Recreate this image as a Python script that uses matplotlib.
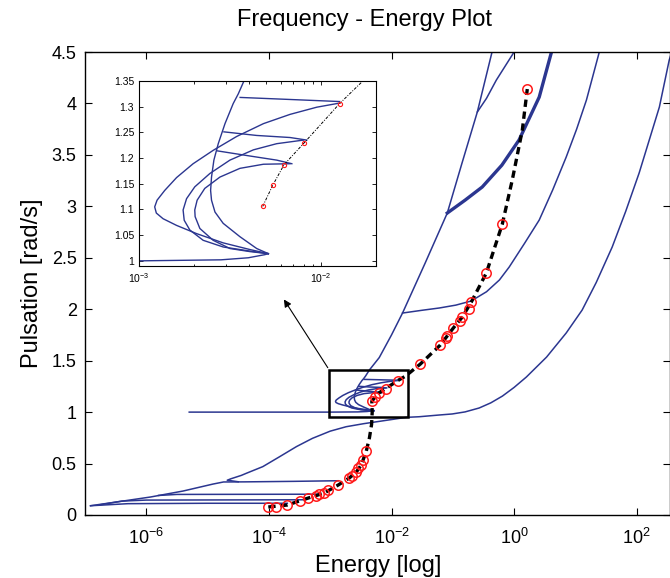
import matplotlib.pyplot as plt
import numpy as np
from matplotlib.patches import Rectangle

plt.rcParams['font.family'] = ['Liberation Sans', 'DejaVu Sans']
plt.rcParams['mathtext.default'] = 'regular'

# energies are given as log10(E), pulsation in rad/s
# lower backbone with the low-frequency tongues
low_E = [-6.91, -6.49, -5.93, -5.40, -4.91, -4.74, -4.40, -3.60, -2.87]
low_w = [0.090, 0.126, 0.175, 0.233, 0.301, 0.321, 0.322, 0.327, 0.333]
tongue1_E = [-6.91, -6.30, -5.00, -3.70]
tongue1_w = [0.090, 0.110, 0.114, 0.114]
tongue2_E = [-6.75, -6.40, -6.00, -3.45]
tongue2_w = [0.100, 0.135, 0.145, 0.148]
tongue3_E = [-5.80, -5.50, -3.20]
tongue3_w = [0.190, 0.200, 0.202]

# upper branch of first mode, going to the right big curve
up_E = [-4.50, -4.68, -4.62, -4.45, -4.37, -4.10, -3.83, -3.55, -3.29, -3.00, -2.74,
        -2.45, -2.20, -1.76, -1.55, -1.22, -1.01, -0.80, -0.57, -0.38, -0.19, 0.00,
        0.20, 0.53, 0.85, 1.11, 1.34, 1.60, 1.82, 2.04, 2.37, 2.53, 2.65]
up_w = [0.323, 0.338, 0.352, 0.385, 0.405, 0.470, 0.565, 0.665, 0.745, 0.815, 0.858,
        0.888, 0.910, 0.949, 0.955, 0.972, 0.982, 1.002, 1.040, 1.090, 1.156, 1.240,
        1.341, 1.535, 1.769, 1.992, 2.260, 2.604, 2.950, 3.324, 3.965, 4.420, 4.650]

# line at w = 1 ending at the tip of the C curves
one_E = [-5.30, -4.00, -3.00, -2.55, -2.40, -2.31, -2.29]
one_w = [1.000, 1.000, 1.000, 1.002, 1.006, 1.012, 1.014]

# C shaped curves (zoomed region)
c1_E = [-2.290, -2.391, -2.538, -2.684, -2.794, -2.868, -2.905, -2.914, -2.901, -2.859,
        -2.794, -2.703, -2.593, -2.464, -2.317, -2.171, -2.024, -1.899]
c1_w = [1.014, 1.022, 1.035, 1.053, 1.069, 1.082, 1.093, 1.105, 1.118, 1.137,
        1.162, 1.189, 1.215, 1.242, 1.267, 1.285, 1.299, 1.307]
c2_E = [-2.290, -2.391, -2.538, -2.648, -2.721, -2.752, -2.758, -2.739, -2.694, -2.611,
        -2.501, -2.372, -2.244, -2.097]
c2_w = [1.014, 1.019, 1.027, 1.040, 1.060, 1.079, 1.099, 1.121, 1.144, 1.170,
        1.196, 1.216, 1.228, 1.235]
c3_E = [-2.290, -2.391, -2.501, -2.593, -2.666, -2.692, -2.694, -2.681, -2.639, -2.556,
        -2.446, -2.317, -2.171]
c3_w = [1.014, 1.018, 1.024, 1.040, 1.063, 1.086, 1.099, 1.118, 1.141, 1.163,
        1.180, 1.188, 1.189]
# steepest one, leaves the box and goes to the top
c4_E = [-2.290, -2.354, -2.446, -2.538, -2.583, -2.602, -2.607, -2.602, -2.589, -2.565,
        -2.528, -2.483, -2.455, -2.424, -2.36, -2.20, -2.00, -1.82, -1.45, -1.09,
        -0.85, -0.60, -0.36]
c4_w = [1.014, 1.024, 1.047, 1.073, 1.095, 1.118, 1.137, 1.163, 1.196, 1.228,
        1.267, 1.306, 1.325, 1.350, 1.410, 1.530, 1.750, 1.963, 2.450, 2.935,
        3.420, 3.917, 4.500]
tk1_E = [-2.445, -2.171, -1.899]
tk1_w = [1.318, 1.314, 1.310]
tk2_E = [-2.534, -2.354, -2.171, -2.079]
tk2_w = [1.251, 1.244, 1.240, 1.235]
tk3_E = [-2.570, -2.391, -2.244, -2.161]
tk3_w = [1.214, 1.204, 1.196, 1.189]

# upper curves
d_E = [-1.82, -1.50, -1.22, -0.95, -0.70, -0.45, -0.24, -0.08, 0.17, 0.41, 0.63, 0.85, 1.02, 1.18, 1.39]
d_w = [1.963, 1.990, 2.012, 2.040, 2.080, 2.170, 2.284, 2.410, 2.640, 2.867, 3.160, 3.479, 3.750, 4.033, 4.500]
e_E = [-1.09, -0.80, -0.52, -0.20, 0.08, 0.41, 0.61]
e_w = [2.935, 3.060, 3.188, 3.400, 3.644, 4.062, 4.500]
f_E = [-0.60, -0.45, -0.29, 0.00]
f_w = [3.917, 4.050, 4.227, 4.500]

# computed points (red circles)
pts_E = [-4.010, -3.879, -3.700, -3.488, -3.357, -3.227, -3.178, -3.096, -3.031, -2.868,
         -2.688, -2.639, -2.574, -2.542, -2.493, -2.460, -2.411,
         -2.321, -2.266, -2.204, -2.095, -1.899,
         -1.530, -1.204, -1.106, -1.090, -0.992, -0.878, -0.845, -0.731, -0.698,
         -0.453, -0.192, 0.215]
pts_w = [0.078, 0.078, 0.097, 0.136, 0.165, 0.185, 0.204, 0.214, 0.243, 0.292,
         0.360, 0.379, 0.418, 0.457, 0.486, 0.535, 0.622,
         1.106, 1.147, 1.187, 1.229, 1.306,
         1.467, 1.652, 1.720, 1.740, 1.817, 1.885, 1.924, 2.002, 2.070,
         2.352, 2.828, 4.140]
# dashed path through the points
dash_E = [-4.010, -3.700, -3.357, -3.096, -2.868, -2.688, -2.574, -2.493, -2.411,
          -2.36, -2.325, -2.315, -2.321, -2.266, -2.204, -2.095, -1.899, -1.771,
          -1.530, -1.204, -0.992, -0.845, -0.698, -0.453, -0.192, -0.03, 0.134, 0.215]
dash_w = [0.078, 0.097, 0.165, 0.214, 0.292, 0.360, 0.418, 0.486, 0.622,
          0.750, 0.880, 1.000, 1.106, 1.147, 1.187, 1.229, 1.306, 1.350,
          1.467, 1.652, 1.817, 1.924, 2.070, 2.352, 2.828, 3.256, 3.741, 4.140]
inset_dash_start = 12  # the inset path starts at the first circle above w = 1.1

thin_curves = [(low_E, low_w), (tongue1_E, tongue1_w), (tongue2_E, tongue2_w),
               (tongue3_E, tongue3_w), (up_E, up_w), (one_E, one_w),
               (c1_E, c1_w), (c2_E, c2_w), (c3_E, c3_w), (c4_E, c4_w),
               (tk1_E, tk1_w), (tk2_E, tk2_w), (tk3_E, tk3_w),
               (d_E, d_w), (f_E, f_w)]

blue = '#2b3690'

fig = plt.figure(figsize=(6.7, 5.78), dpi=100)
ax = fig.add_axes([0.1269, 0.109, 0.8737, 0.801])

for E, w in thin_curves:
    ax.plot(10 ** np.array(E), w, color=blue, lw=1.1)
ax.plot(10 ** np.array(e_E), e_w, color=blue, lw=2.4)
ax.plot(10 ** np.array(dash_E), dash_w, color='k', lw=2.4, ls=(0, (2.2, 1.4)))
ax.plot(10 ** np.array(pts_E), pts_w, 'o', mfc='none', mec='#ff1a1a', ms=6.8, mew=1.1)

ax.set_xscale('log')
ax.set_xlim(1e-7, 10 ** 2.55)
ax.set_ylim(0, 4.5)
ax.set_xticks([1e-6, 1e-4, 1e-2, 1e0, 1e2])
ax.xaxis.set_minor_locator(plt.NullLocator())
yt = np.arange(0, 4.51, 0.5)
ax.set_yticks(yt)
ax.set_yticklabels(['%g' % v for v in yt])
ax.tick_params(direction='in', top=True, right=True, labelsize=13, length=5, width=0.8)
ax.tick_params(axis='x', pad=9)
ax.tick_params(axis='y', pad=6)
for s in ax.spines.values():
    s.set_linewidth(1.0)
ax.set_xlabel('Energy [log]', fontsize=17, labelpad=5)
ax.set_ylabel('Pulsation [rad/s]', fontsize=17, labelpad=6)
ax.set_title('Frequency - Energy Plot', fontsize=17, pad=19, x=0.477)

# zoom box and arrow
ax.add_patch(Rectangle((10 ** -3.015, 0.955), 10 ** -1.726 - 10 ** -3.015, 0.454,
                       fill=False, ec='k', lw=1.8, zorder=5))
ax.annotate('', xy=(10 ** -3.78, 2.118), xytext=(10 ** -3.015, 1.409),
            arrowprops=dict(arrowstyle='-|>', color='k', lw=0.8, mutation_scale=11))

# inset
ins = fig.add_axes([0.2075, 0.5398, 0.3537, 0.3201])
for E, w in thin_curves:
    ins.plot(10 ** np.array(E), w, color=blue, lw=1.0)
ins.plot(10 ** np.array(dash_E[inset_dash_start:]), dash_w[inset_dash_start:],
         color='k', lw=0.7, ls=(0, (3, 1.5, 1, 1.5)))
ins.plot(10 ** np.array(pts_E), pts_w, 'o', mfc='none', mec='#ff1a1a', ms=3, mew=0.8)
ins.set_xscale('log')
ins.set_xlim(1e-3, 2e-2)
ins.set_ylim(0.99, 1.35)
ins.set_xticks([1e-3, 1e-2])
it = np.arange(1.0, 1.351, 0.05)
ins.set_yticks(it)
ins.set_yticklabels(['%g' % round(v, 2) for v in it])
ins.tick_params(which='both', direction='in', top=True, right=True, labelsize=7.5, width=0.6)
ins.tick_params(which='major', length=3)
ins.tick_params(which='minor', length=1.8)

fig.savefig('out.png', dpi=100)
